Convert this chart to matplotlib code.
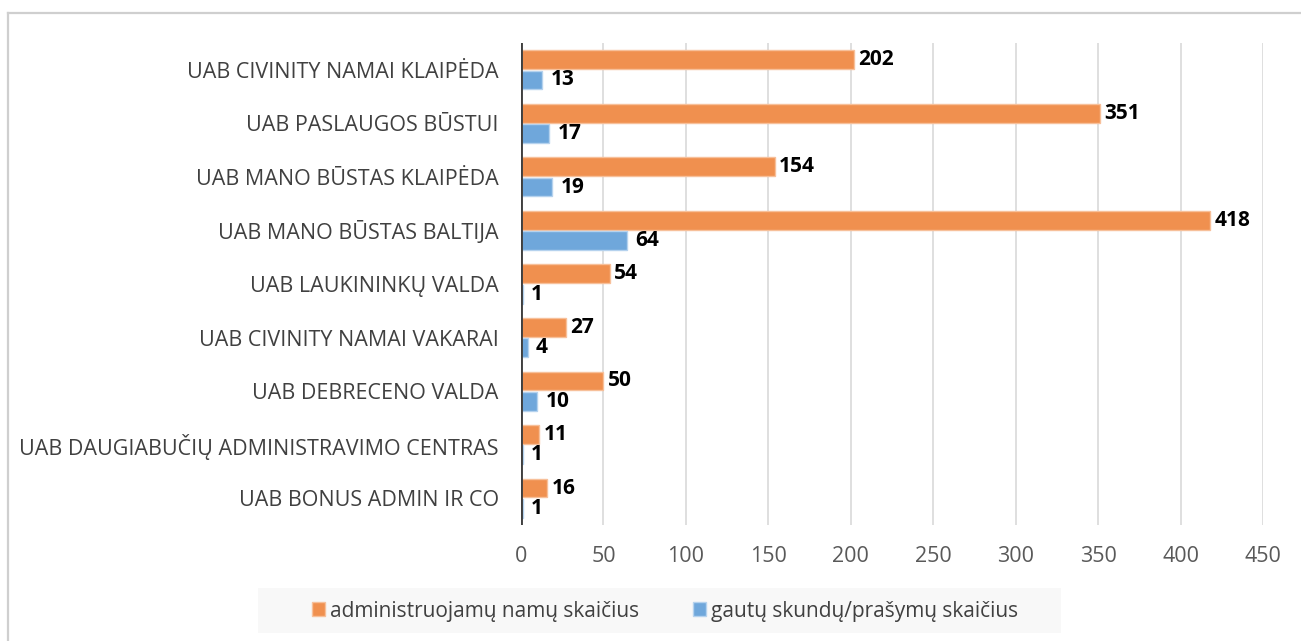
import matplotlib.pyplot as plt
import matplotlib as mpl
import numpy as np

plt.rcParams['font.family'] = ['Open Sans', 'DejaVu Sans']

companies = ["UAB CIVINITY NAMAI KLAIPĖDA",
             "UAB PASLAUGOS BŪSTUI",
             "UAB MANO BŪSTAS KLAIPĖDA",
             "UAB MANO BŪSTAS BALTIJA",
             "UAB LAUKININKŲ VALDA",
             "UAB CIVINITY NAMAI VAKARAI",
             "UAB DEBRECENO VALDA",
             "UAB DAUGIABUČIŲ ADMINISTRAVIMO CENTRAS",
             "UAB BONUS ADMIN IR CO"]
namai = [202, 351, 154, 418, 54, 27, 50, 11, 16]
skundai = [13, 17, 19, 64, 1, 4, 10, 1, 1]

xticks = [0, 50, 100, 150, 200, 250, 300, 350, 400, 450]

orange = "#F0904F"
blue = "#6FA7DB"

fig = plt.figure(figsize=(13.01, 6.41), dpi=100)
ax = fig.add_axes([521/1301, 1-525/641, (1263-521)/1301, (525-43)/641])

y = np.arange(len(companies))
b1 = ax.barh(y - 0.19, namai, height=0.35, color=orange, edgecolor="#F7C09A",
             linewidth=1, label="administruojamų namų skaičius", zorder=3)
b2 = ax.barh(y + 0.19, skundai, height=0.35, color=blue, edgecolor="#B5D2EE",
             linewidth=1, label="gautų skundų/prašymų skaičius", zorder=3)

ax.bar_label(b1, padding=3, fontsize=15, fontweight="bold", color="black")
ax.bar_label(b2, padding=6, fontsize=15, fontweight="bold", color="black")

ax.set_ylim(8.5, -0.5)
ax.set_xlim(0, 450)
ax.set_yticks(y, companies)
ax.set_xticks(xticks)
ax.tick_params(axis="y", length=0, pad=16, labelsize=15.5, labelcolor="#404040")
ax.tick_params(axis="x", length=0, pad=15, labelsize=15.5, labelcolor="#595959")
for s in ax.spines.values():
    s.set_visible(False)
ax.grid(axis="x", color="#d9d9d9", linewidth=1.2, zorder=0)
ax.axvline(0, color="#404040", linewidth=2.8, zorder=4)

# chart frame (cut at right and bottom)
fig.add_artist(mpl.lines.Line2D([8/1301, 1.0], [1-13/641, 1-13/641], color="#cfcfcf", linewidth=1.6))
fig.add_artist(mpl.lines.Line2D([8/1301, 8/1301], [1-13/641, 0.0], color="#cfcfcf", linewidth=1.6))

# legend background
fig.add_artist(mpl.patches.Rectangle((258/1301, 1-633/641), (1061-258)/1301, 45/641,
                                     facecolor="#f8f8f8", edgecolor="none", transform=fig.transFigure))
fig.legend(handles=[b1, b2], loc="center", bbox_to_anchor=(665/1301, 1-611/641), ncol=2,
           frameon=False, fontsize=15, handlelength=0.62, handleheight=0.62,
           handletextpad=0.25, columnspacing=2.6, labelcolor="#404040")

plt.savefig("out.png")
